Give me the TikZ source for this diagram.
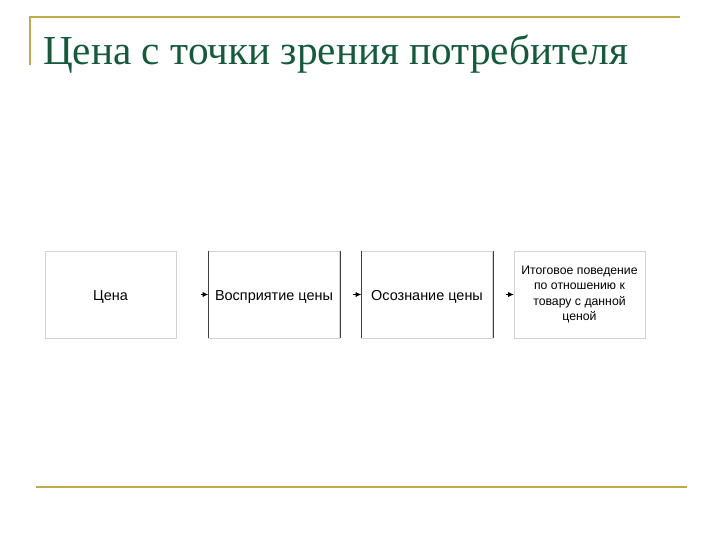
\documentclass[tikz,border=0pt]{standalone}
\usepackage{fontspec}
\setmainfont{Liberation Serif}
\setsansfont{Liberation Sans}
\usetikzlibrary{arrows.meta, positioning}
\definecolor{titlegreen}{RGB}{20,90,60}
\definecolor{rulegold}{RGB}{190,170,70}
\definecolor{boxgray}{RGB}{210,210,210}

\begin{document}
\begin{tikzpicture}
[	x=1bp, y=-1bp,
	box/.style={rectangle,draw=boxgray,line width=0.6,minimum height=87bp,minimum width=131bp,
		font=\sffamily\fontsize{14.5}{17}\selectfont,align=center,inner sep=2bp},
	oneline/.style={text height=13bp,text depth=2bp},
	tip/.style={black,line width=0.6,-{Latex[length=5.5bp,width=5bp]}}
]
\useasboundingbox (0,0) rectangle (720,540);

% title and rules
\draw[rulegold,line width=1.5] (30,65) -- (30,17) -- (680,17);
\draw[rulegold,line width=1.5] (36,487) -- (687,487);
\node[anchor=base west,inner sep=0,text=titlegreen,font=\fontsize{41.4}{44}\selectfont] (title) at (43,65) {Цена с точки зрения потребителя};

% boxes
\node[box,oneline] (price)  at (110.5,294.5) {Цена};
\node[box,oneline] (percep) at (274,294.5) {Восприятие цены};
\node[box,oneline] (aware)  at (427,294.5) {Осознание цены};
\node[box,font=\sffamily\fontsize{12.3}{15.7}\selectfont] (behav) at (579.5,294.5) {Итоговое поведение\\по отношению к\\товару с данной\\ценой};

\draw[black!75,line width=0.6] (percep.north west) -- (percep.south west);
\draw[black!75,line width=0.6] (percep.north east) -- (percep.south east);
\draw[black!75,line width=0.6] (aware.north west) -- (aware.south west);
\draw[black!75,line width=0.6] (aware.north east) -- (aware.south east);

% arrows
\draw[tip,shorten <=24.5bp] (price) -- (percep);
\draw[tip,shorten <=13.5bp] (percep) -- (aware);
\draw[tip,shorten <=13.5bp] (aware) -- (behav);

\end{tikzpicture}
\end{document}
